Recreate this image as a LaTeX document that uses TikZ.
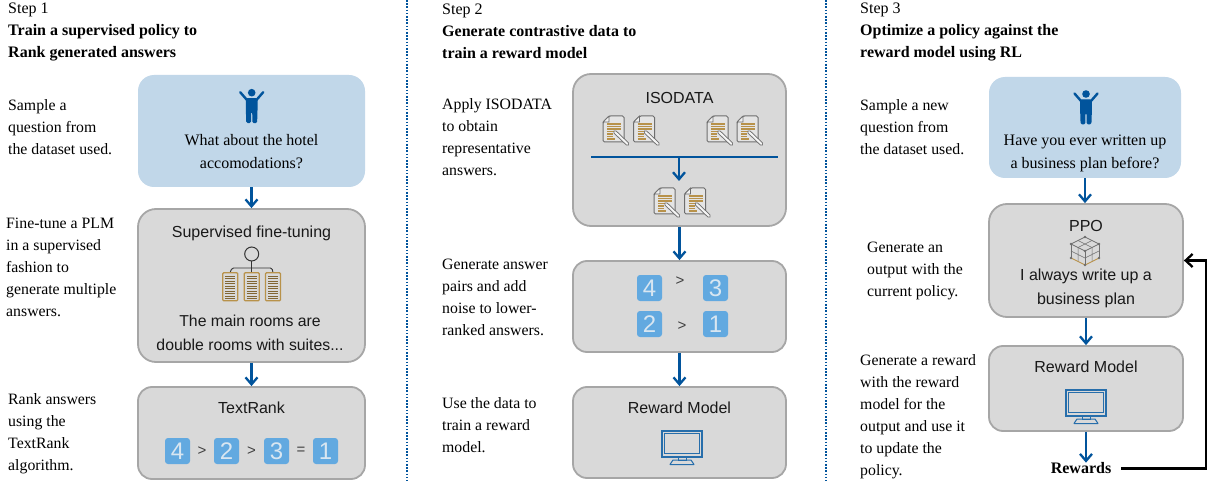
\documentclass[tikz,border=0pt]{standalone}
\usepackage{fontspec}
\setmainfont{Liberation Serif}
\newfontfamily\arialf{Liberation Sans}
\usetikzlibrary{arrows.meta,calc}
\definecolor{bluebox}{HTML}{C1D7E9}
\definecolor{graybox}{HTML}{D9D9D9}
\definecolor{grayedge}{HTML}{A6A6A6}
\definecolor{arrowblue}{HTML}{01549C}
\definecolor{tanline}{HTML}{B8924A}
\definecolor{numblue}{HTML}{62A9E0}
\definecolor{numtext}{HTML}{D8E6F1}
\definecolor{iconedge}{HTML}{6E6E6E}
\tikzset{
 x=1pt,y=-1pt,
 side/.style={anchor=west,align=left,inner sep=0pt,font=\fontsize{15.8}{22}\selectfont,text=black},
 head/.style={anchor=west,align=left,inner sep=0pt,font=\fontsize{16}{22}\selectfont,text=black},
 bluenode/.style={draw=none,fill=bluebox,rounded corners=16pt,inner sep=0pt},
 graynode/.style={draw=grayedge,line width=1.8pt,fill=graybox,rounded corners=18pt,inner sep=0pt},
 boxtitle/.style={inner sep=0pt,align=center,font=\arialf\fontsize{16}{23.5}\selectfont,text=black!90},
 quest/.style={inner sep=0pt,align=center,font=\fontsize{16}{22.5}\selectfont,text=black},
 flow/.style={draw=arrowblue,line width=2.3pt,-{Straight Barb[length=7pt,width=12pt,line width=2.3pt]}},
 feedback/.style={draw=black,line width=2.3pt,-{Straight Barb[length=7pt,width=13pt,line width=2.3pt]}},
 numbox/.style={fill=numblue,rounded corners=3pt,minimum width=25pt,minimum height=26pt,inner sep=0pt,text=numtext,font=\arialf\fontsize{24}{24}\selectfont},
 relop/.style={inner sep=0pt,font=\arialf\fontsize{15}{15}\selectfont,text=black!75},
 divider/.style={draw=arrowblue,line width=1.6pt,dash pattern=on 1.6pt off 1.6pt},
}
\newcommand{\personicon}[2]{%
 \begin{scope}[shift={(#1,#2)}]
  \fill[arrowblue] (0,0) circle (3.8);
  \draw[arrowblue,line width=2.4pt,line cap=round,line join=round] (-11.5,-0.5) -- (-5,7) -- (5,7) -- (11.5,-0.5);
  \fill[arrowblue,rounded corners=1.5pt] (-5.8,5.5) -- (5.8,5.5) -- (5.8,19) -- (5.4,30.5) -- (0.7,30.5) -- (0.5,19) -- (-0.5,19) -- (-0.7,30.5) -- (-5.4,30.5) -- (-5.8,19) -- cycle;
 \end{scope}}
\newcommand{\docicon}[2]{%
 \begin{scope}[shift={(#1,#2)}]
  \draw[iconedge,line width=1pt,fill=graybox!70!white,rounded corners=1.5pt] (6,0) -- (21,0) -- (21,26) -- (0,26) -- (0,6) -- cycle;
  \draw[iconedge,line width=.7pt,fill=graybox!40!white] (6,0) -- (6,6) -- (0,6) -- cycle;
  \foreach \yy/\xe in {8/18,10.5/18,13/18,15.5/12,18/10,20.5/10,23/12}{\draw[tanline,line width=1.2pt] (4,\yy) -- (\xe,\yy);}
  \draw[iconedge,line width=3.8pt,line cap=round] (12,16) -- (24.5,28);
  \draw[graybox!30!white,line width=2pt,line cap=round] (12,16) -- (24.5,28);
 \end{scope}}
\newcommand{\monitoricon}[2]{%
 \begin{scope}[shift={(#1,#2)},arrowblue!85!white]
  \draw[line width=1.4pt,fill=graybox] (0,0) rectangle (40,26);
  \draw[line width=.8pt] (2.5,2.5) rectangle (37.5,22.5);
  \draw[line width=.9pt] (16,26) -- (16,29) -- (24,29) -- (24,26);
  \draw[line width=1pt,line join=round] (8,33.5) -- (11,29) -- (29,29) -- (32,33.5) -- cycle;
 \end{scope}}
\newcommand{\treedoc}[1]{%
 \draw[tanline,line width=1.2pt,rounded corners=1pt] (#1,272.7) rectangle ++(15,28);
 \foreach \yy in {276,278.5,281,283.5,286,288.5,291,293.5,296,298.5}{\draw[tanline!70!black,line width=.5pt] (#1+2.5,\yy) -- (#1+12.5,\yy);}}
\begin{document}
\begin{tikzpicture}
\useasboundingbox (0,0) rectangle (1210,481);
\fill[white] (0,0) rectangle (1210,481);
% dividers
\coordinate (d1t) at (407,0); \coordinate (d1b) at (407,481);
\coordinate (d2t) at (826,0); \coordinate (d2b) at (826,481);
\draw[divider] (d1t) -- (d1b);
\draw[divider] (d2t) -- (d2b);
% headers
\node[head] (h1) at (8,31.5) {Step 1\\\textbf{Train a supervised policy to}\\\textbf{Rank generated answers}};
\node[head] (h2) at (442,31.5) {Step 2\\\textbf{Generate contrastive data to}\\\textbf{train a reward model}};
\node[head] (h3) at (860,31.5) {Step 3\\\textbf{Optimize a policy against the}\\\textbf{reward model using RL}};
% side texts
\node[side] (s11) at (8,127) {Sample a\\question from\\the dataset used.};
\node[side] (s12) at (6,267) {Fine-tune a PLM\\in a supervised\\fashion to\\generate multiple\\answers.};
\node[side] (s13) at (8,433.5) {Rank answers\\using the\\TextRank\\algorithm.};
\node[side] (s21) at (442,137) {Apply ISODATA\\to obtain\\representative\\answers.};
\node[side] (s22) at (442,297) {Generate answer\\pairs and add\\noise to lower-\\ranked answers.};
\node[side] (s23) at (442,425) {Use the data to\\train a reward\\model.};
\node[side] (s31) at (860,127) {Sample a new\\question from\\the dataset used.};
\node[side] (s32) at (867,270.5) {Generate an\\output with the\\current policy.};
\node[side] (s33) at (860,416.5) {Generate a reward\\with the reward\\model for the\\output and use it\\to update the\\policy.};
% column 1 boxes
\node[bluenode,minimum width=227pt,minimum height=112pt] (q1) at (251.5,131) {};
\node[graynode,minimum width=227pt,minimum height=153pt] (st) at (251.5,285.5) {};
\node[graynode,minimum width=227pt,minimum height=92pt,rounded corners=14pt] (tr) at (251.5,433) {};
\draw[flow] (q1) -- (st);
\draw[flow] (st) -- (tr);
\personicon{251.7}{92.7}
\node[quest] (q1t) at (251.5,151.5) {What about the hotel\\accomodations?};
\node[boxtitle] (stt) at (251.5,233.5) {Supervised fine-tuning};
\draw[black!80,line width=.9pt] (251.7,261) -- (251.7,272.7);
\draw[black!80,line width=.9pt,rounded corners=1.5pt] (230,272.7) -- (232,268) -- (272,268) -- (273,272.7);
\draw[black!80,line width=1pt] (251.7,254) circle (7);
\treedoc{222.7}
\treedoc{244.2}
\treedoc{265.5}
\node[boxtitle,font=\arialf\fontsize{15.8}{23.5}\selectfont] (stb) at (250,333) {The main rooms are\\double rooms with suites...};
\node[boxtitle] (trt) at (251.5,407.5) {TextRank};
\node[numbox] (n14) at (177.5,451) {4};
\node[numbox] (n12) at (226.5,451) {2};
\node[numbox] (n13) at (276.5,451) {3};
\node[numbox] (n11) at (325.5,451) {1};
\node[relop] (r11) at (202,451) {>};
\node[relop] (r12) at (251.5,451) {>};
\node[relop] (r13) at (301,451) {=};
% column 2 boxes
\node[graynode,minimum width=213pt,minimum height=152pt] (iso) at (679.5,150) {};
\node[graynode,minimum width=213pt,minimum height=91pt,rounded corners=14pt] (pairs) at (679.5,306.5) {};
\node[graynode,minimum width=213pt,minimum height=91pt,rounded corners=14pt] (rm2) at (679.5,432.5) {};
\draw[flow] (iso) -- (pairs);
\draw[flow] (pairs) -- (rm2);
\node[boxtitle] (isot) at (679.5,98) {ISODATA};
\docicon{603}{116}
\docicon{633.5}{116}
\docicon{707}{116}
\docicon{737}{116}
\coordinate (bl) at (591,157);
\coordinate (br) at (778,157);
\coordinate (bm) at (679,157);
\coordinate (bd) at (679,181);
\draw[arrowblue,line width=2.3pt] (bl) -- (br);
\draw[flow] (bm) -- (bd);
\docicon{654}{188}
\docicon{684.5}{188}
\node[numbox] (n24) at (649.5,288) {4};
\node[numbox] (n23) at (715.5,288) {3};
\node[numbox] (n22) at (649.5,324) {2};
\node[numbox] (n21) at (715.5,324) {1};
\node[relop] (r21) at (680,281) {>};
\node[relop] (r22) at (682,326) {>};
\node[boxtitle] (rm2t) at (679.5,407.5) {Reward Model};
\monitoricon{662}{431}
% column 3 boxes
\node[bluenode,minimum width=192pt,minimum height=101pt] (q3) at (1085,127.5) {};
\node[graynode,minimum width=194pt,minimum height=113pt] (ppo) at (1086,260.5) {};
\node[graynode,minimum width=194pt,minimum height=85pt,rounded corners=14pt] (rm3) at (1086,388.5) {};
\draw[flow] (q3) -- (ppo.north-|q3);
\draw[flow] (ppo) -- (rm3);
\personicon{1086}{94}
\node[quest] (q3t) at (1085,153.5) {Have you ever written up\\a business plan before?};
\node[boxtitle] (ppot) at (1086,226) {PPO};
\begin{scope}[shift={(1085,250)}]
 \coordinate (ct) at (0,-13); \coordinate (cl) at (-14,-6); \coordinate (cr) at (14,-6);
 \coordinate (cm) at (0,1); \coordinate (bbl) at (-14,8); \coordinate (bbr) at (14,8); \coordinate (cb) at (0,15);
 \draw[iconedge,line width=.8pt] (ct) -- (cl) -- (cm) -- (cr) -- cycle;
 \draw[iconedge,line width=.8pt] (cl) -- (bbl) (cr) -- (bbr) (cm) -- (cb);
 \draw[iconedge,line width=.5pt] (-7,-9.5) -- (7,-2.5) (7,-9.5) -- (-7,-2.5) (-7,-2.5) -- (-7,11.5) (7,-2.5) -- (7,11.5) (-14,1) -- (0,8) -- (14,1);
 \draw[tanline,line width=.9pt] (bbl) -- (cb) -- (bbr);
 \foreach \pp in {ct,cl,cr,cm,bbl,bbr,cb}{\fill[iconedge] (\pp) circle (1.3);}
\end{scope}
\node[boxtitle] (ppob) at (1086,288.5) {I always write up a\\business plan};
\node[boxtitle] (rm3t) at (1086,367) {Reward Model};
\monitoricon{1066}{390}
\node[inner sep=0pt,font=\fontsize{16}{18}\selectfont\bfseries] (rew) at (1081,468.5) {Rewards};
\draw[flow] (rm3) -- (rm3.south|-rew.north);
\coordinate (fbs) at ($(rew.east)+(10,0)$);
\coordinate (fbx) at (1206,0);
\draw[feedback] (fbs) -- (fbx|-fbs) |- (ppo.east);
\end{tikzpicture}
\end{document}
